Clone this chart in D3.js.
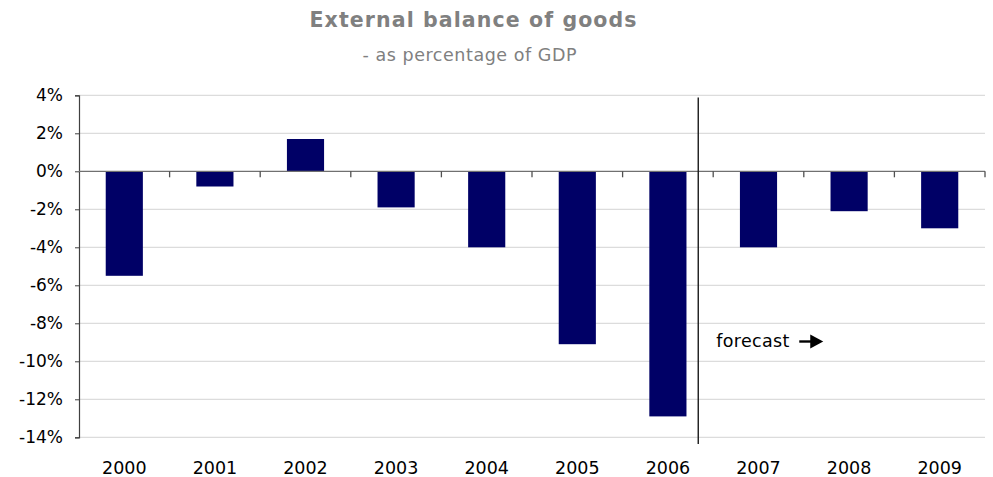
<!DOCTYPE html>
<html>
<head>
<meta charset="utf-8">
<script src="https://cdn.jsdelivr.net/npm/d3@7/dist/d3.min.js"></script>
<style>
  html, body { margin: 0; padding: 0; background: #fff; }
  svg { display: block; }
</style>
</head>
<body>
<svg id="chart" width="993" height="477"></svg>
<script>
// External balance of goods, % of GDP (2007 onwards are forecasts)
const years = ["2000", "2001", "2002", "2003", "2004", "2005", "2006", "2007", "2008", "2009"];
const balance = [-5.5, -0.8, 1.7, -1.9, -4.0, -9.1, -12.9, -4.0, -2.1, -3.0];
const yTicks = [4, 2, 0, -2, -4, -6, -8, -10, -12, -14];
const lastActualYear = "2006";

const svg = d3.select("#chart");
const W = 993, H = 477;
const margin = { left: 79, right: 8, top: 95.3, bottom: 39.7 };
const plotRight = W - margin.right;
const plotBottom = H - margin.bottom;

const font = "DejaVu Sans, Verdana, sans-serif";

const x = d3.scaleBand().domain(years).range([margin.left, plotRight]).padding(0);
const y = d3.scaleLinear().domain([-14, 4]).range([plotBottom, margin.top]);
const barW = x.bandwidth() * 0.41;

// title
svg.append("text")
  .attr("x", 473).attr("y", 26.5)
  .attr("text-anchor", "middle")
  .attr("font-family", font).attr("font-weight", "bold").attr("font-size", 20.5)
  .attr("textLength", 327).attr("lengthAdjust", "spacing")
  .attr("fill", "#808080")
  .text("External balance of goods");
svg.append("text")
  .attr("x", 469.5).attr("y", 61)
  .attr("text-anchor", "middle")
  .attr("font-family", font).attr("font-size", 17.5)
  .attr("textLength", 214).attr("lengthAdjust", "spacing")
  .attr("fill", "#808080")
  .text("- as percentage of GDP");

// horizontal gridlines
svg.append("g")
  .selectAll("line")
  .data(yTicks.filter(d => d !== 0))
  .join("line")
  .attr("x1", margin.left).attr("x2", plotRight)
  .attr("y1", d => y(d)).attr("y2", d => y(d))
  .attr("stroke", "#dcdcdc").attr("stroke-width", 1.3);

// bars
svg.append("g")
  .selectAll("rect")
  .data(years.map((yr, i) => ({ yr, v: balance[i] })))
  .join("rect")
  .attr("x", d => x(d.yr) + (x.bandwidth() - barW) / 2)
  .attr("width", barW)
  .attr("y", d => y(Math.max(0, d.v)))
  .attr("height", d => Math.abs(y(d.v) - y(0)))
  .attr("fill", "#000066");

// y axis
const yAxis = d3.axisLeft(y)
  .tickValues(yTicks)
  .tickSize(4)
  .tickPadding(12)
  .tickFormat(d => (d < 0 ? "-" : "") + Math.abs(d) + "%");
const gy = svg.append("g")
  .attr("transform", `translate(${margin.left},0)`)
  .call(yAxis);
gy.select(".domain").attr("stroke", "#404040").attr("stroke-width", 1.2);
gy.selectAll(".tick line").attr("stroke", "#404040");
gy.selectAll(".tick text")
  .attr("font-family", font).attr("font-size", 17).attr("fill", "#000");

// zero line with category boundary ticks
const zero = y(0);
svg.append("line")
  .attr("x1", margin.left).attr("x2", plotRight)
  .attr("y1", zero).attr("y2", zero)
  .attr("stroke", "#707070").attr("stroke-width", 1.3);
svg.append("g")
  .selectAll("line")
  .data(years.slice(1).concat(["end"]))
  .join("line")
  .attr("x1", d => d === "end" ? plotRight : x(d))
  .attr("x2", d => d === "end" ? plotRight : x(d))
  .attr("y1", zero).attr("y2", zero + 6)
  .attr("stroke", "#505050").attr("stroke-width", 1.3);

// year labels
svg.append("g")
  .selectAll("text")
  .data(years)
  .join("text")
  .attr("x", d => x(d) + x.bandwidth() / 2)
  .attr("y", 473.5)
  .attr("text-anchor", "middle")
  .attr("font-family", font).attr("font-size", 17.5)
  .attr("fill", "#000")
  .text(d => d);

// forecast divider, just right of the last actual bar
const divX = x(lastActualYear) + x.step() * 0.835;
svg.append("line")
  .attr("x1", divX).attr("x2", divX)
  .attr("y1", 97.5).attr("y2", 444)
  .attr("stroke", "#1a1a1a").attr("stroke-width", 1.4);

svg.append("text")
  .attr("x", divX + 18).attr("y", 346.7)
  .attr("font-family", font).attr("font-size", 17.5)
  .attr("textLength", 73).attr("lengthAdjust", "spacing")
  .attr("fill", "#000")
  .text("forecast");

// arrow
const ax0 = divX + 101, ax1 = divX + 125, ay = 341.5;
svg.append("line")
  .attr("x1", ax0).attr("x2", ax1 - 8)
  .attr("y1", ay).attr("y2", ay)
  .attr("stroke", "#000").attr("stroke-width", 2.4);
svg.append("path")
  .attr("d", `M${ax1},${ay} L${ax1 - 13},${ay - 7} L${ax1 - 13},${ay + 7} Z`)
  .attr("fill", "#000");
</script>
</body>
</html>
